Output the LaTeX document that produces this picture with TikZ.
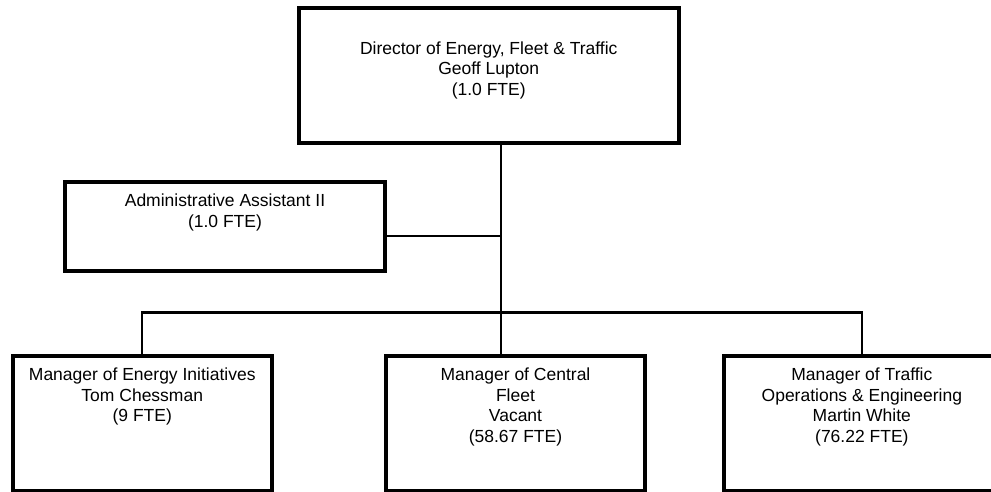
\documentclass[tikz,border=0pt]{standalone}
\usepackage{fontspec}
\setmainfont{Liberation Sans}
\usetikzlibrary{positioning}
\tikzset{
	unitbox/.style={draw, line width=4pt, inner sep=0pt, outer sep=0pt, minimum height=135pt},
	unittext/.style={anchor=north, inner sep=0pt, align=center, font=\fontsize{17.5}{20.5}\selectfont},
	link/.style={line width=2.4pt}
}

\begin{document}
\begin{tikzpicture}[x=1pt, y=-1pt]
		%%%%% START %%%%%
		\useasboundingbox (0, 0) rectangle (991, 492);
		\clip (0, 0) rectangle (991, 492);
		
		\coordinate (hub) at (501, 312.3);
		
		\node[unitbox, minimum width=380.5pt] (director) at (488.75, 75.5) {};
		\node[unitbox, minimum width=320pt, minimum height=88.5pt] (assistant) at (225, 226.75) {};
		\node[unitbox, minimum width=259.5pt, minimum height=135.4pt] (energy) at (142.25, 423.3) {};
		\node[unitbox, minimum width=259pt, minimum height=135.4pt] (fleet) at (515.5, 423.3) {};
		\node[unitbox, minimum width=276.3pt, minimum height=135.4pt] (traffic) at (861.85, 423.3) {};
		
		\draw[link] (director.south -| hub) -- (hub |- fleet.north);
		\draw[link] ([yshift=-9pt]assistant.east) -- ([yshift=-9pt]assistant.east -| hub);
		\draw[link] (energy.north) |- (hub) -| (traffic.north);
		
		\node[unittext, below=33.5pt of director.north] (director-text) {Director of Energy, Fleet \& Traffic\\Geoff Lupton\\(1.0 FTE)};
		\node[unittext, below=11.4pt of assistant.north] (assistant-text) {Administrative Assistant II\\(1.0 FTE)};
		\node[unittext, below=12.3pt of energy.north] (energy-text) {Manager of Energy Initiatives\\Tom Chessman\\(9 FTE)};
		\node[unittext, below=12.3pt of fleet.north] (fleet-text) {Manager of Central\\Fleet\\Vacant\\(58.67 FTE)};
		\node[unittext, below=12.3pt of traffic.north] (traffic-text) {Manager of Traffic\\Operations \& Engineering\\Martin White\\(76.22 FTE)};
		%%%%% END %%%%%
\end{tikzpicture}
\end{document}
